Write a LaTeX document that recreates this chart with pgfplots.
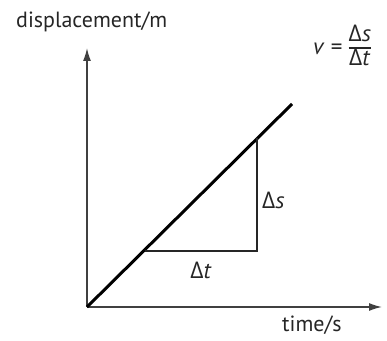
\documentclass[border=0pt]{standalone}
\usepackage{pgfplots}
\pgfplotsset{compat=1.18}
\usetikzlibrary{arrows.meta}
\usepackage{fontspec}
\setmainfont{PT Sans}
\newfontfamily\grk{Open Sans}
\newcommand{\D}{{\grk Δ}}
\begin{document}
\begin{tikzpicture}
\path[use as bounding box] (0,0) rectangle (387pt,340pt);
\begin{axis}[
  at={(87pt,33pt)}, anchor=south west,
  x=1pt, y=1pt,
  xmin=0, xmax=295, ymin=0, ymax=259,
  hide axis,
  clip=false,
]
% axes
\addplot[black!75, line width=1.5pt, -{Latex[length=13pt,width=8pt]}] coordinates {(0,0) (295,0)};
\addplot[black!75, line width=1.5pt, -{Latex[length=13pt,width=8pt]}] coordinates {(0,0) (0,259)};
% data
\addplot[black, line width=3pt] coordinates {(0,0) (205,203)};
\addplot[black!85, line width=1.6pt] coordinates {(58,56) (170,56) (170,169)};
\node[anchor=base west, inner sep=0pt, font=\fontsize{22}{26}\selectfont, text=black!85] at (axis cs:-71,279) {displacement/m};
\node[anchor=west, inner sep=0pt, font=\fontsize{23}{24}\selectfont, text=black!85] at (axis cs:226,259) {\setlength{\arrayrulewidth}{1.2pt}\renewcommand{\arraystretch}{0.85}\textit{v} = \begin{tabular}{@{}c@{}}\D\textit{s}\\\hline \D\textit{t}\end{tabular}};
\node[anchor=west, inner sep=0pt, font=\fontsize{23}{26}\selectfont, text=black!85] at (axis cs:175,107) {\D\textit{s}};
\node[anchor=center, inner sep=0pt, font=\fontsize{23}{26}\selectfont, text=black!85] at (axis cs:114,37) {\D\textit{t}};
\node[anchor=west, inner sep=0pt, font=\fontsize{22}{26}\selectfont, text=black!85] at (axis cs:195,-18) {time/s};
\end{axis}
\end{tikzpicture}
\end{document}
